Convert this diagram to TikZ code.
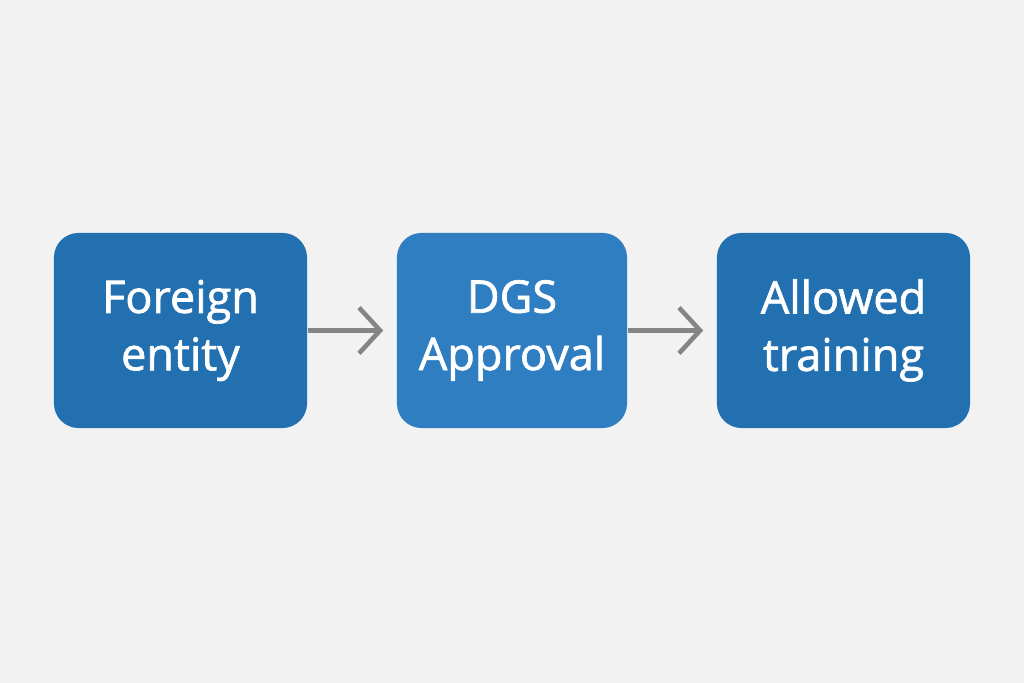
\documentclass[tikz,border=0pt]{standalone}
\usepackage{fontspec}
\setmainfont{Open Sans}[FakeBold=1.5]
\usetikzlibrary{arrows.meta}
\definecolor{bg}{HTML}{F2F2F2}
\definecolor{boxa}{HTML}{2370B0}
\definecolor{boxb}{HTML}{2F7EC1}
\definecolor{arr}{HTML}{858585}
\tikzset{
  stepbox/.style={draw=none, rounded corners=7pt, align=center, text=white,
    font=\fontsize{12.8}{16.3}\selectfont, inner sep=0pt},
  conn/.style={draw=arr, line width=1.3pt, -{Straight Barb[length=6pt,width=13pt,line width=1.3pt]}}
}
\begin{document}
\begin{tikzpicture}[x=0.01cm,y=0.01cm]
\fill[bg] (0,0) rectangle (1024,683);
\useasboundingbox (0,0) rectangle (1024,683);
\node[stepbox, fill=boxa, minimum width=2.53cm, minimum height=1.95cm] (a) at (180.5,352.5) {Foreign\\entity};
\node[stepbox, fill=boxb, minimum width=2.30cm, minimum height=1.95cm] (b) at (512,352.5) {DGS\\Approval};
\node[stepbox, fill=boxa, minimum width=2.53cm, minimum height=1.95cm] (c) at (843.5,352.5) {Allowed\\training};
\draw[conn] (a.east) -- ([xshift=-0.13cm]b.west);
\draw[conn] (b.east) -- ([xshift=-0.13cm]c.west);
\end{tikzpicture}
\end{document}
